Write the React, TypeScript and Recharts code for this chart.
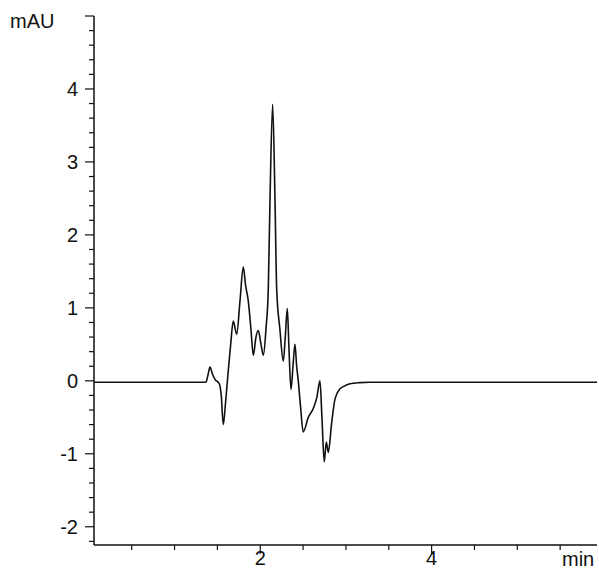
import React from "react";
import { LineChart, Line, XAxis, YAxis } from "recharts";

const times = [0.06, 0.5, 1.0, 1.367, 1.39, 1.414, 1.44, 1.472, 1.522, 1.545, 1.569, 1.595, 1.624, 1.655, 1.685, 1.725, 1.764, 1.802, 1.83, 1.86, 1.892, 1.919, 1.95, 1.977, 2.009, 2.036, 2.067, 2.094, 2.114, 2.145, 2.172, 2.192, 2.23, 2.269, 2.292, 2.316, 2.335, 2.359, 2.382, 2.405, 2.425, 2.444, 2.47, 2.502, 2.561, 2.619, 2.662, 2.697, 2.72, 2.747, 2.771, 2.794, 2.834, 2.872, 2.93, 2.969, 3.047, 3.164, 3.28, 3.397, 4.0, 5.0, 5.93];
const signal = [-0.02, -0.02, -0.02, -0.02, 0.08, 0.19, 0.1, 0.02, -0.04, -0.2, -0.6, -0.3, 0.1, 0.5, 0.82, 0.64, 1.1, 1.56, 1.3, 1.1, 0.7, 0.35, 0.6, 0.69, 0.5, 0.35, 0.71, 1.26, 2.49, 3.79, 2.49, 1.26, 0.7, 0.27, 0.6, 0.99, 0.45, -0.12, 0.2, 0.5, 0.2, 0.0, -0.35, -0.7, -0.5, -0.38, -0.22, 0.0, -0.5, -1.11, -0.84, -0.98, -0.57, -0.25, -0.11, -0.08, -0.04, -0.025, -0.02, -0.02, -0.02, -0.02, -0.02];

const yLabels = [-2, -1, 0, 1, 2, 3, 4];
const xLabels = [2, 4];

const data = times.map((t, i) => ({ t, v: signal[i] }));

const yTicks: number[] = [];
for (let i = -11; i <= 25; i++) yTicks.push(Math.round(i * 2) / 10);
const xTicks: number[] = [];
for (let i = 1; i <= 11; i++) xTicks.push(i / 2);

const FONT = "'Liberation Sans', Arial, sans-serif";
const FS = 20;

const YTick = (props: any) => {
  const { x, y, payload } = props;
  const v = payload.value;
  const isMajor = Math.abs(v - Math.round(v)) < 1e-6;
  const labeled = yLabels.some((l) => Math.abs(l - v) < 1e-6);
  const len = isMajor ? 9 : 5;
  return (
    <g>
      <line x1={x - len} x2={x} y1={y} y2={y} stroke="#111" strokeWidth={1.2} />
      {labeled && (
        <text x={x - 16} y={y} dy="0.35em" textAnchor="end" fontFamily={FONT} fontSize={FS} fill="#111">
          {v}
        </text>
      )}
    </g>
  );
};

const XTick = (props: any) => {
  const { x, y, payload } = props;
  const v = payload.value;
  const labeled = xLabels.some((l) => Math.abs(l - v) < 1e-6);
  const len = labeled ? 9 : 5;
  return (
    <g>
      <line x1={x} x2={x} y1={y} y2={y + len} stroke="#111" strokeWidth={1.2} />
      {labeled && (
        <text x={x} y={y + 20} textAnchor="middle" fontFamily={FONT} fontSize={FS} fill="#111">
          {v}
        </text>
      )}
    </g>
  );
};

export default function App() {
  return (
    <div style={{ position: "absolute", left: 0, top: 0, width: 599, height: 581, background: "#fff" }}>
      <LineChart width={599} height={581} data={data} margin={{ top: 16, right: 2, left: 0, bottom: 0 }}>
        <XAxis
          dataKey="t"
          type="number"
          domain={[0.06, 5.93]}
          ticks={xTicks}
          allowDataOverflow
          height={36}
          tickSize={0}
          tickMargin={0}
          tickLine={false}
          axisLine={{ stroke: "#111", strokeWidth: 1.5 }}
          tick={<XTick />}
          interval={0}
        />
        <YAxis
          type="number"
          domain={[-2.25, 5]}
          ticks={yTicks}
          allowDataOverflow
          width={94}
          tickSize={0}
          tickMargin={0}
          tickLine={false}
          axisLine={{ stroke: "#111", strokeWidth: 1.5 }}
          tick={<YTick />}
          interval={0}
        />
        <Line
          type="monotone"
          dataKey="v"
          stroke="#111"
          strokeWidth={1.6}
          dot={false}
          isAnimationActive={false}
        />
      </LineChart>
      <svg width={599} height={581} style={{ position: "absolute", left: 0, top: 0, pointerEvents: "none" }}>
        <text x={10} y={28} fontFamily={FONT} fontSize={FS} fill="#111">mAU</text>
        <text x={562} y={566} fontFamily={FONT} fontSize={FS} fill="#111">min</text>
      </svg>
    </div>
  );
}
